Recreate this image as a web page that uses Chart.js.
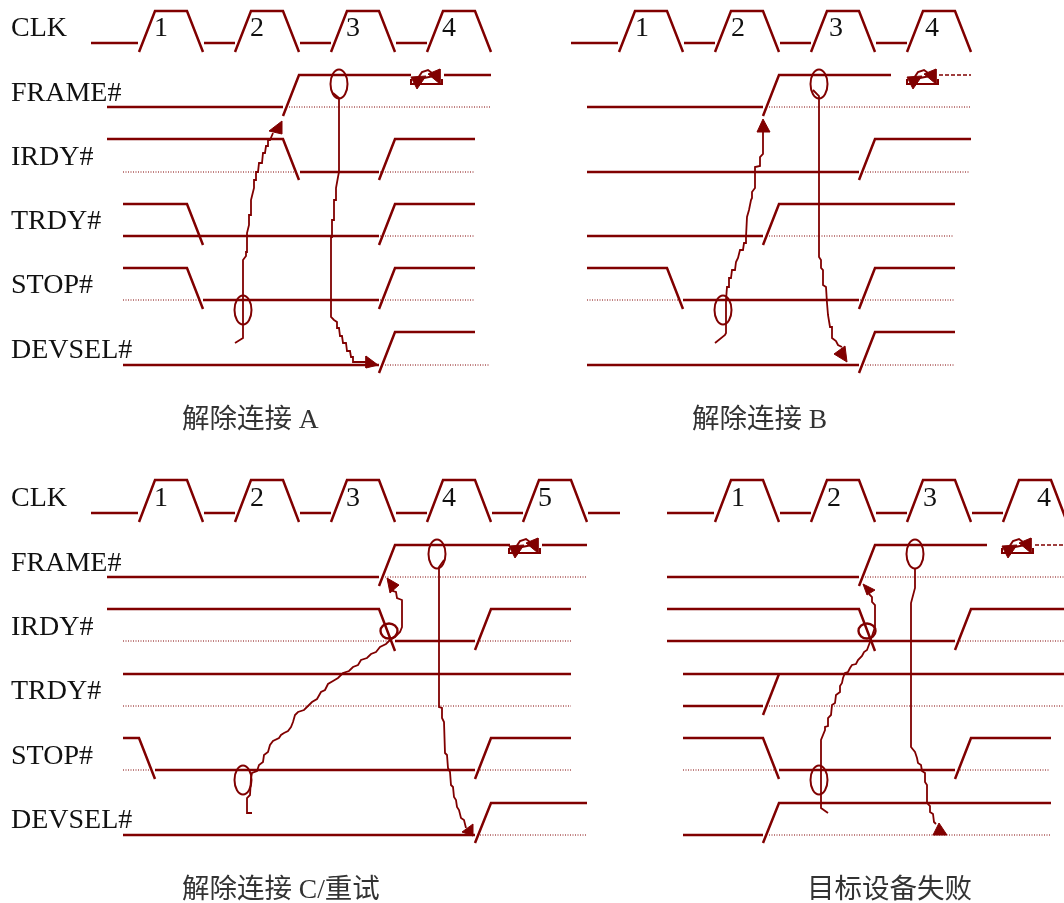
<!DOCTYPE html>
<html lang="zh">
<head>
  <meta charset="utf-8">
  <title>解除连接时序图</title>
  <style>
    body { margin: 0; background: #fff; }
    canvas { display: block; }
  </style>
</head>
<body>
  <canvas id="chart" width="1064" height="903"></canvas>
  <script src="https://cdn.jsdelivr.net/npm/chart.js"></script>
  <script>
    // every polyline is a flat x,y,x,y list in diagram units

    // panel A
    const solidA = [
      [91,43,138,43], [139,52,155,11,187,11,203,52], [204,43,235,43], [235,52,251,11,283,11,299,52],
      [300,43,331,43], [331,52,347,11,379,11,395,52], [396,43,427,43], [427,52,443,11,475,11,491,52],
      [107,107,283,107], [283,116,299,75,411,75], [444,75,491,75],
      [107,139,283,139,299,180], [300,172,379,172], [379,180,395,139,475,139],
      [123,204,187,204,203,245], [123,236,379,236], [379,245,395,204,475,204],
      [123,268,187,268,203,309], [203,300,379,300], [379,309,395,268,475,268],
      [123,365,379,365], [379,373,395,332,475,332]
    ];
    const dottedA = [
      [289,107,491,107], [123,172,297,172], [380,172,475,172], [380,236,475,236],
      [123,300,200,300], [380,300,475,300], [385,365,490,365]
    ];
    const curvesA = [
      [235,343,243,338,243,260,246,256,246,252,247,252,247,233,249,225,249,215,251,215,251,200,252,196,254,188,254,180,256,180,256,172,258,172,259,163,262,163,263,153,265,153,266,146,268,146,268,140,270,140,273,133],
      [333,93,339,98,339,172,338,177,336,188,336,200,334,200,334,220,332,220,332,237,331,237,331,317,334,320,337,322,337,328,339,328,340,336,342,336,343,343,346,343,347,351,350,351,351,357,353,357,353,362,366,362]
    ];
    const headsA = [[282,121,269,131,282,134], [378,365,366,356,366,368]];

    // panel B
    const solidB = [
      [571,43,618,43], [619,52,635,11,667,11,683,52], [684,43,715,43], [715,52,731,11,763,11,779,52],
      [780,43,811,43], [811,52,827,11,859,11,875,52], [876,43,907,43], [907,52,923,11,955,11,971,52],
      [587,107,763,107], [763,116,779,75,891,75],
      [587,172,859,172], [859,180,875,139,971,139],
      [587,236,763,236], [763,245,779,204,955,204],
      [587,268,667,268,683,309], [683,300,859,300], [859,309,875,268,955,268],
      [587,365,859,365], [859,373,875,332,955,332]
    ];
    const dottedB = [
      [769,107,971,107], [865,172,970,172], [769,236,953,236],
      [587,300,680,300], [860,300,955,300], [865,365,955,365]
    ];
    const dashedB = [[939,75,971,75]];
    const curvesB = [
      [715,343,725,335,726,333,726,300,727,287,729,287,729,278,731,278,732,270,735,270,736,262,738,258,740,250,743,250,744,243,746,243,746,237,747,217,749,210,751,200,752,198,752,192,755,188,755,167,760,166,760,157,763,154,763,132],
      [813,90,819,96,819,257,821,260,821,268,823,270,823,285,826,287,827,303,828,315,830,327,832,327,832,338,836,341,838,345,842,347]
    ];
    const headsB = [[763,119,757,132,770,132], [847,362,834,354,845,346]];

    // panel C
    const solidC = [
      [91,513,138,513], [139,522,155,480,187,480,203,522], [204,513,235,513], [235,522,251,480,283,480,299,522],
      [300,513,331,513], [331,522,347,480,379,480,395,522], [396,513,427,513], [427,522,443,480,475,480,491,522],
      [492,513,523,513], [523,522,539,480,571,480,587,522], [588,513,620,513],
      [107,577,379,577], [379,586,395,545,510,545], [542,545,587,545],
      [107,609,379,609,395,651], [395,641,475,641], [475,650,491,609,571,609],
      [123,674,571,674],
      [123,738,139,738,155,779], [155,770,475,770], [475,779,491,738,571,738],
      [123,835,475,835], [475,843,491,803,587,803]
    ];
    const dottedC = [
      [385,577,587,577], [123,641,392,641], [480,641,571,641], [123,706,571,706],
      [123,770,150,770], [480,770,571,770], [480,835,587,835]
    ];
    const curvesC = [
      [252,813,247,813,247,798,250,795,251,778,252,773,257,771,259,765,263,762,264,755,268,752,270,745,273,741,279,738,281,735,284,733,288,731,291,727,293,722,295,715,298,712,304,710,308,706,312,702,317,699,321,692,325,690,328,684,333,681,338,678,343,673,349,671,353,667,358,665,361,660,367,658,371,654,376,652,380,647,386,644,390,640,395,637,400,632,402,627,402,600,397,598,396,592,393,591,393,587],
      [444,560,439,567,439,707,442,708,442,718,444,722,445,753,447,755,448,768,450,772,451,785,453,787,454,797,456,800,457,807,459,810,461,818,464,820,466,828]
    ];
    const headsC = [[387,578,399,585,390,593], [473,824,462,832,473,836]];

    // panel D
    const solidD = [
      [667,513,714,513], [715,522,731,480,763,480,779,522], [780,513,811,513], [811,522,827,480,859,480,875,522],
      [876,513,907,513], [907,522,923,480,955,480,971,522], [972,513,1003,513], [1003,522,1019,480,1051,480,1067,522],
      [667,577,859,577], [859,586,875,545,987,545],
      [667,609,859,609,875,651], [667,641,955,641], [955,650,971,609,1064,609],
      [683,674,1064,674], [683,706,763,706], [763,715,779,674],
      [683,738,763,738,779,779], [779,770,955,770], [955,779,971,738,1051,738],
      [683,835,763,835], [763,843,779,803,1051,803]
    ];
    const dottedD = [
      [865,577,1064,577], [960,641,1064,641], [769,706,1064,706],
      [683,770,775,770], [960,770,1050,770], [769,835,1051,835]
    ];
    const dashedD = [[1035,545,1064,545]];
    const curvesD = [
      [828,813,821,808,821,740,825,730,825,727,828,726,828,718,831,715,832,705,835,703,836,695,840,692,840,686,842,683,843,678,845,673,848,672,850,668,852,665,856,664,858,660,862,656,864,652,867,650,870,642,875,627,875,605,872,602,872,597,869,594],
      [915,568,915,588,911,603,911,747,915,752,917,758,918,763,921,765,922,771,925,773,925,782,927,785,927,803,930,806,930,812,933,814,934,822,936,824]
    ];
    const headsD = [[863,584,875,590,867,595], [939,823,933,835,947,835]];

    // little turnaround mark on FRAME#, placed once per panel
    const turnLines = [[411,79,411,84,442,84,442,79], [418,78,422,72,428,70,432,73], [424,78,434,76]];
    const turnHeads = [[411,77,426,76,417,89], [440,69,440,84,428,74]];
    const turnOffsets = [[0,0], [496,0], [98,469], [591,469]];

    const tallRings = [[339,84],[243,310],[819,84],[723,310],[437,554],[243,780],[915,554],[819,780]];
    const smallRings = [[389,631],[867,631]];

    const signalNames = ['CLK','FRAME#','IRDY#','TRDY#','STOP#','DEVSEL#'];
    const signalBaselines = [36,101,165,229,293,358,506,571,635,699,764,828];
    const cycleLabels = ['1','2','3','4','1','2','3','4','1','2','3','4','5','1','2','3','4'];
    const cycleX = [161,257,353,449,642,738,836,932,161,257,353,449,545,738,834,930,1044];
    const cycleY = [36,36,36,36,36,36,36,36,506,506,506,506,506,506,506,506,506];
    const captions = ['解除连接 A','解除连接 B','解除连接 C/重试','目标设备失败'];
    const captionX = [182,692,182,807];
    const captionY = [428,428,898,898];

    const MAROON = '#800000';
    const datasets = [];

    function toPoints(flat, dx, dy) {
      const pts = [];
      for (let i = 0; i < flat.length; i += 2) {
        pts.push({ x: flat[i] + (dx || 0), y: flat[i + 1] + (dy || 0) });
      }
      return pts;
    }
    function addLines(list, width, dash, dx, dy) {
      list.forEach(function (flat) {
        datasets.push({
          data: toPoints(flat, dx, dy), showLine: true, pointRadius: 0,
          borderColor: MAROON, borderWidth: width, borderDash: dash, tension: 0
        });
      });
    }
    function addHeads(list, dx, dy) {
      list.forEach(function (flat) {
        const pts = toPoints(flat, dx, dy);
        pts.push(pts[0]);
        datasets.push({
          data: pts, showLine: true, pointRadius: 0, borderColor: MAROON, borderWidth: 1,
          backgroundColor: MAROON, fill: 'shape', tension: 0
        });
      });
    }

    [solidA, solidB, solidC, solidD].forEach(l => addLines(l, 2.5, []));
    [dottedA, dottedB, dottedC, dottedD].forEach(l => addLines(l, 1, [1, 1.5]));
    [dashedB, dashedD].forEach(l => addLines(l, 1.3, [4, 2]));
    [curvesA, curvesB, curvesC, curvesD].forEach(l => addLines(l, 1.8, []));
    [headsA, headsB, headsC, headsD].forEach(l => addHeads(l));
    turnOffsets.forEach(function (o) {
      addLines(turnLines, 2, [], o[0], o[1]);
      addHeads(turnHeads, o[0], o[1]);
    });

    // rings and the text go on top, placed through the chart scales
    const overlay = {
      id: 'overlay',
      afterDatasetsDraw(chart) {
        const ctx = chart.ctx;
        const sx = chart.scales.x, sy = chart.scales.y;
        const ring = function (c, rx, ry) {
          ctx.beginPath();
          ctx.ellipse(sx.getPixelForValue(c[0]), sy.getPixelForValue(c[1]), rx, ry, 0, 0, Math.PI * 2);
          ctx.stroke();
        };
        ctx.save();
        ctx.strokeStyle = MAROON;
        ctx.lineWidth = 2;
        tallRings.forEach(c => ring(c, 8.5, 14.5));
        ctx.lineWidth = 2.4;
        smallRings.forEach(c => ring(c, 8.5, 7.5));

        ctx.fillStyle = '#111';
        ctx.textBaseline = 'alphabetic';
        ctx.font = '28px "Liberation Serif", "Noto Sans CJK SC", serif';
        ctx.textAlign = 'left';
        signalBaselines.forEach(function (y, i) {
          ctx.fillText(signalNames[i % 6], sx.getPixelForValue(11), sy.getPixelForValue(y));
        });
        ctx.textAlign = 'center';
        cycleLabels.forEach(function (t, i) {
          ctx.fillText(t, sx.getPixelForValue(cycleX[i]), sy.getPixelForValue(cycleY[i]));
        });
        ctx.textAlign = 'left';
        ctx.fillStyle = '#333';
        ctx.font = '27.5px "Liberation Serif", "Noto Sans CJK SC", serif';
        captions.forEach(function (t, i) {
          ctx.fillText(t, sx.getPixelForValue(captionX[i]), sy.getPixelForValue(captionY[i]));
        });
        ctx.restore();
      }
    };

    new Chart(document.getElementById('chart'), {
      type: 'scatter',
      data: { datasets: datasets },
      plugins: [overlay],
      options: {
        responsive: false,
        animation: false,
        devicePixelRatio: 1,
        layout: { padding: 0 },
        plugins: { legend: { display: false }, tooltip: { enabled: false } },
        scales: {
          x: { type: 'linear', min: 0, max: 1064, display: false },
          y: { type: 'linear', min: 0, max: 903, reverse: true, display: false }
        }
      }
    });
  </script>
</body>
</html>
